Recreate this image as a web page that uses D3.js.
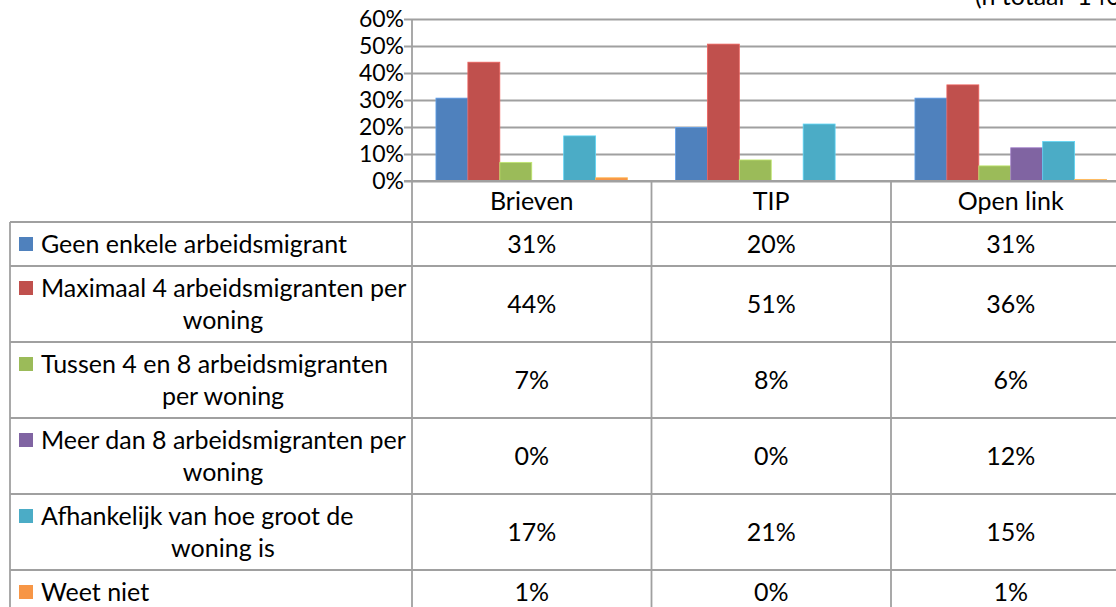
<!DOCTYPE html>
<html>
<head>
<meta charset="utf-8">
<script src="https://cdn.jsdelivr.net/npm/d3@7"></script>
<style>
  html, body { margin: 0; padding: 0; background: #fff; overflow: hidden; }
  svg { display: block; }
</style>
</head>
<body>
<div id="chart"></div>
<script>
// data
const categories = ["Brieven", "TIP", "Open link"];
const seriesLabels = [
    ["Geen enkele arbeidsmigrant"],
    ["Maximaal 4 arbeidsmigranten per", "woning"],
    ["Tussen 4 en 8 arbeidsmigranten", "per woning"],
    ["Meer dan 8 arbeidsmigranten per", "woning"],
    ["Afhankelijk van hoe groot de", "woning is"],
    ["Weet niet"]
];
const seriesColors = ["#4F81BD", "#C0504D", "#9BBB59", "#8064A2", "#4BACC6", "#F79646"];
const geenEnkele = [0.307, 0.198, 0.307];
const maximaal4 = [0.44, 0.507, 0.356];
const tussen4en8 = [0.069, 0.078, 0.056];
const meerDan8 = [0, 0, 0.123];
const afhankelijk = [0.167, 0.211, 0.146];
const weetNiet = [0.012, 0, 0.006];
const yTicks = [0, 0.1, 0.2, 0.3, 0.4, 0.5, 0.6];
const noteText = "(n totaal  1400)";

const seriesValues = [geenEnkele, maximaal4, tussen4en8, meerDan8, afhankelijk, weetNiet];

const width = 1116;
const height = 607;
const fontSize = 25;
const axisFontSize = 23;
const fontFamily = "Lato, 'Open Sans', sans-serif";
const lineColor = "#a0a0a0";
const lineHeight = 32;

const svg = d3.select("#chart")
    .append("svg")
    .attr("width", width)
    .attr("height", height)
    .style("font-family", fontFamily)
    .style("font-size", fontSize + "px");

// scales
const plotLeft = 412;
const catWidth = 239.5;
const x0 = d3.scaleBand()
    .domain(categories)
    .range([plotLeft, plotLeft + catWidth * categories.length])
    .paddingInner(0)
    .paddingOuter(0);

const x1 = d3.scaleBand()
    .domain(d3.range(seriesValues.length))
    .range([0, x0.bandwidth()])
    .paddingInner(0)
    .paddingOuter(0.75);

const y = d3.scaleLinear()
    .domain([0, 0.6])
    .range([181, 19]);

// gridlines + y axis
const yAxis = d3.axisLeft(y)
    .tickValues(yTicks)
    .tickFormat(d3.format(".0%"))
    .tickSize(-(width - plotLeft + 20))
    .tickPadding(8);

const axisG = svg.append("g")
    .attr("transform", `translate(${plotLeft},0)`)
    .call(yAxis);
axisG.select(".domain").remove();
axisG.selectAll(".tick line")
    .attr("x1", -8)
    .attr("stroke", lineColor)
    .attr("stroke-width", 1.8);
axisG.selectAll(".tick text")
    .attr("fill", "#000")
    .style("font-family", fontFamily)
    .style("font-size", axisFontSize + "px");

// bars
const groups = svg.selectAll(".cat")
    .data(categories)
    .enter()
    .append("g")
    .attr("class", "cat")
    .attr("transform", d => `translate(${x0(d)},0)`);

groups.selectAll("rect")
    .data((c, ci) => seriesValues.map((vals, si) => ({ si, value: vals[ci] })))
    .enter()
    .append("rect")
    .attr("x", d => x1(d.si))
    .attr("y", d => y(d.value))
    .attr("width", x1.bandwidth())
    .attr("height", d => y(0) - y(d.value))
    .attr("fill", d => seriesColors[d.si])
    .attr("stroke", d => d3.color(seriesColors[d.si]).brighter(0.6))
    .attr("stroke-width", d => d.value > 0 ? 0.8 : 0);

// redraw baseline over bars
svg.append("line")
    .attr("x1", plotLeft - 8)
    .attr("x2", width + 20)
    .attr("y1", y(0))
    .attr("y2", y(0))
    .attr("stroke", lineColor)
    .attr("stroke-width", 1.8);

// data table
const tableLeft = 10;
const headerTop = y(0);
const headerBottom = 222;
const rowHeights = seriesLabels.map(l => 12 + l.length * lineHeight);
const rowTops = [];
let acc = headerBottom;
rowHeights.forEach(h => { rowTops.push(acc); acc += h; });
const tableBottom = acc;

const grid = svg.append("g")
    .attr("stroke", lineColor)
    .attr("stroke-width", 1.8);

// vertical lines
grid.append("line")
    .attr("x1", plotLeft).attr("x2", plotLeft)
    .attr("y1", y(0.6)).attr("y2", tableBottom);
categories.forEach(c => {
    grid.append("line")
        .attr("x1", x0(c) + x0.bandwidth()).attr("x2", x0(c) + x0.bandwidth())
        .attr("y1", headerTop).attr("y2", tableBottom);
});
grid.append("line")
    .attr("x1", tableLeft).attr("x2", tableLeft)
    .attr("y1", headerBottom).attr("y2", tableBottom);

// horizontal lines
rowTops.concat([tableBottom]).forEach(t => {
    grid.append("line")
        .attr("x1", tableLeft).attr("x2", width + 20)
        .attr("y1", t).attr("y2", t);
});

// header labels
svg.selectAll(".colHead")
    .data(categories)
    .enter()
    .append("text")
    .attr("class", "colHead")
    .attr("x", d => x0(d) + x0.bandwidth() / 2)
    .attr("y", (headerTop + headerBottom) / 2)
    .attr("dy", "0.35em")
    .attr("text-anchor", "middle")
    .text(d => d);

// row labels with legend keys
const labelTextX = 41;
const labelRight = 405;
seriesLabels.forEach((lines, si) => {
    const top = rowTops[si];
    const mid = top + rowHeights[si] / 2;
    const firstY = mid - (lines.length - 1) * lineHeight / 2;
    svg.append("rect")
        .attr("x", 19)
        .attr("y", firstY - 7)
        .attr("width", 14)
        .attr("height", 14)
        .attr("fill", seriesColors[si]);
    lines.forEach((ln, li) => {
        svg.append("text")
            .attr("x", li === 0 ? labelTextX : (labelTextX + labelRight) / 2)
            .attr("y", firstY + li * lineHeight)
            .attr("dy", "0.35em")
            .attr("text-anchor", li === 0 ? "start" : "middle")
            .text(ln);
    });
    categories.forEach((c, ci) => {
        svg.append("text")
            .attr("x", x0(c) + x0.bandwidth() / 2)
            .attr("y", mid)
            .attr("dy", "0.35em")
            .attr("text-anchor", "middle")
            .text(d3.format(".0%")(seriesValues[si][ci]));
    });
});

// note at top right (cut off by the frame, as in the original)
svg.append("text")
    .attr("x", 975)
    .attr("y", 5)
    .style("white-space", "pre")
    .text(noteText);
</script>
</body>
</html>
